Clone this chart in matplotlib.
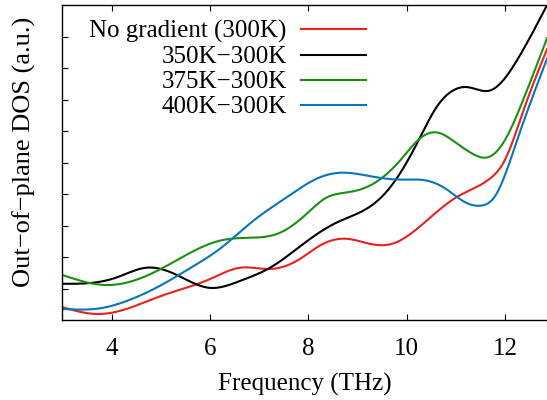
import numpy as np
import matplotlib
matplotlib.use('Agg')
import matplotlib.pyplot as plt

# knots (frequency in THz, DOS in arbitrary units)
x_red = [3.0, 3.7, 4.3, 5.0, 6.0, 6.61, 7.22, 7.83, 8.23, 8.78, 9.25, 9.7, 10.4, 11.0, 11.69, 12.0, 12.37, 12.85]
y_red = [0.41, 0.19, 0.35, 0.76, 1.3, 1.66, 1.62, 1.94, 2.36, 2.58, 2.42, 2.42, 3.15, 3.89, 4.49, 5.1, 6.65, 8.6]

x_black = [3.0, 3.6, 4.1, 4.7, 5.3, 6.0, 6.61, 7.22, 7.9, 8.58, 9.05, 9.45, 9.86, 10.27, 10.6, 10.94, 11.22, 11.69, 12.24, 12.85]
y_black = [1.15, 1.18, 1.35, 1.66, 1.45, 1.02, 1.24, 1.66, 2.42, 3.1, 3.42, 3.85, 4.65, 5.8, 6.75, 7.29, 7.4, 7.29, 8.25, 10.0]

x_green = [3.0, 3.9, 5.0, 6.2, 6.75, 7.42, 7.97, 8.37, 8.78, 9.25, 9.86, 10.27, 10.6, 11.0, 11.35, 11.62, 11.95, 12.36, 12.85]
y_green = [1.43, 1.11, 1.62, 2.52, 2.61, 2.77, 3.38, 3.89, 4.05, 4.27, 5.06, 5.77, 5.96, 5.63, 5.27, 5.16, 5.6, 6.97, 8.95]

x_blue = [3.0, 3.8, 4.3, 5.0, 5.6, 6.2, 6.88, 7.56, 8.23, 8.7, 9.25, 9.86, 10.4, 10.8, 11.2, 11.49, 11.8, 12.24, 12.85]
y_blue = [0.35, 0.38, 0.6, 1.1, 1.65, 2.26, 3.15, 3.9, 4.53, 4.68, 4.57, 4.46, 4.43, 4.16, 3.73, 3.63, 3.95, 5.7, 8.3]

labels = ['No gradient (300K)', '350K\u2212300K', '375K\u2212300K', '400K\u2212300K']
colors = ['#e8231b', '#000000', '#1a8f12', '#0a74bb']

x_ticks = [4, 6, 8, 10, 12]


def spline(xk, yk, xs):
    # natural cubic spline through the knots
    xk = np.asarray(xk, float)
    yk = np.asarray(yk, float)
    n = len(xk)
    h = np.diff(xk)
    A = np.zeros((n, n))
    b = np.zeros(n)
    A[0, 0] = 1
    A[-1, -1] = 1
    for i in range(1, n - 1):
        A[i, i - 1] = h[i - 1]
        A[i, i] = 2 * (h[i - 1] + h[i])
        A[i, i + 1] = h[i]
        b[i] = 6 * ((yk[i + 1] - yk[i]) / h[i] - (yk[i] - yk[i - 1]) / h[i - 1])
    m = np.linalg.solve(A, b)
    idx = np.clip(np.searchsorted(xk, xs) - 1, 0, n - 2)
    x0, x1 = xk[idx], xk[idx + 1]
    hh = x1 - x0
    t0 = x1 - xs
    t1 = xs - x0
    return (m[idx] * t0 ** 3 / (6 * hh) + m[idx + 1] * t1 ** 3 / (6 * hh)
            + (yk[idx] / hh - m[idx] * hh / 6) * t0
            + (yk[idx + 1] / hh - m[idx + 1] * hh / 6) * t1)


plt.rcParams['font.family'] = ['Liberation Serif', 'DejaVu Serif']

fig, ax = plt.subplots(figsize=(5.47, 4.0), dpi=100)
fig.subplots_adjust(left=0.114, right=1.0, top=0.987, bottom=0.2)

xs = np.linspace(3.0, 12.85, 600)
for xk, yk, lab, c in zip([x_red, x_black, x_green, x_blue],
                          [y_red, y_black, y_green, y_blue], labels, colors):
    ax.plot(xs, spline(xk, yk, xs), color=c, lw=1.5, label=lab)

ax.set_xlim(3.0, 12.85)
ax.set_ylim(0, 10)
ax.set_xticks(x_ticks)
ax.set_yticks(np.arange(1, 10))
ax.set_yticklabels([])
ax.tick_params(direction='in', length=4, width=0.8, top=True, labelsize=18, pad=13)
ax.tick_params(axis='y', right=False)
for s in ax.spines.values():
    s.set_linewidth(1.0)
ax.spines['right'].set_visible(False)

ax.set_xlabel('Frequency (THz)', fontsize=18, labelpad=9)
ax.set_ylabel('Out\u2212of\u2212plane DOS (a.u.)', fontsize=19)
ax.yaxis.set_label_coords(-0.055, 0.535)

ax.legend(loc='upper left', bbox_to_anchor=(0.025, 1.0), frameon=False, markerfirst=False,
          fontsize=18, handlelength=2.6, handletextpad=0.55, labelspacing=0.1,
          borderaxespad=0.2)

fig.savefig('out.png', dpi=100)
